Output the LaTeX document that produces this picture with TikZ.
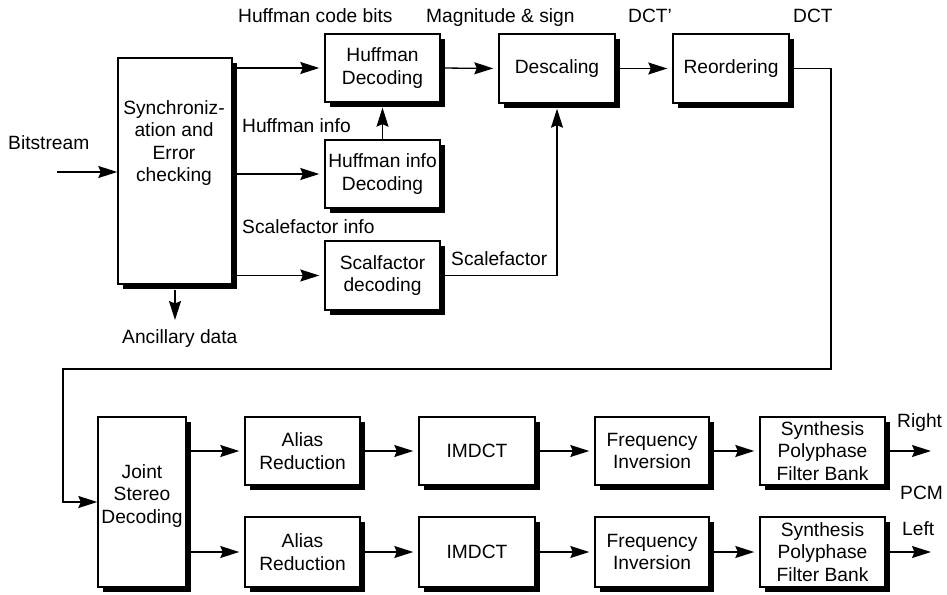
\documentclass[tikz,border=0pt]{standalone}
\usepackage{fontspec}
\setmainfont{Liberation Sans}
\usetikzlibrary{arrows.meta,shadows,calc}

\begin{document}
\begin{tikzpicture}[x=1pt,y=-1pt,
  txt/.style={font=\fontsize{19.2}{22.5}\selectfont},
  blk/.style={txt, draw, line width=1.4pt, fill=white, inner sep=0pt, align=center,
    general shadow={fill=black, shadow xshift=5pt, shadow yshift=-5pt}},
  lbl/.style={txt, inner sep=0pt, anchor=base west},
  arr/.style={line width=1.3pt, -{Stealth[length=19pt,width=12pt,inset=2.5pt]}},
  gap/.style={shorten >=5pt}]
\useasboundingbox (0,0) rectangle (947,594);

% upper chain
\node[blk, minimum width=114pt, minimum height=226pt] (sync) at (175,171) {};
\node[txt, align=center, inner sep=0pt] (synctext) at (174,143) {Synchroniz-\\ation and\\Error\\checking};
\node[blk, minimum width=115pt, minimum height=68pt] (hd) at (382.5,68) {Huffman\\Decoding};
\node[blk, minimum width=115pt, minimum height=68pt] (hid) at (382.5,174) {Huffman info\\Decoding};
\node[blk, minimum width=115pt, minimum height=69pt] (sfd) at (382.5,275.5) {Scalfactor\\decoding};
\node[blk, minimum width=116pt, minimum height=69pt] (desc) at (557,68.5) {Descaling};
\node[blk, minimum width=116pt, minimum height=69pt] (reord) at (731,68.5) {Reordering};

% lower chains
\node[blk, minimum width=88pt, minimum height=170pt] (joint) at (142,502) {};
\node[txt, align=center, inner sep=0pt] (jointtext) at (142,496) {Joint\\Stereo\\Decoding};
\node[blk, minimum width=115pt, minimum height=68pt] (ar1) at (302.5,451) {Alias\\Reduction};
\node[blk, minimum width=115pt, minimum height=70pt] (ar2) at (302.5,552) {Alias\\Reduction};
\node[blk, minimum width=116pt, minimum height=68pt] (im1) at (477,451) {IMDCT};
\node[blk, minimum width=116pt, minimum height=70pt] (im2) at (477,552) {IMDCT};
\node[blk, minimum width=114pt, minimum height=68pt] (fi1) at (652,451) {Frequency\\Inversion};
\node[blk, minimum width=114pt, minimum height=70pt] (fi2) at (652,552) {Frequency\\Inversion};
\node[blk, minimum width=125pt, minimum height=68pt] (sy1) at (822.5,451) {Synthesis\\Polyphase\\Filter Bank};
\node[blk, minimum width=125pt, minimum height=70pt] (sy2) at (822.5,552) {Synthesis\\Polyphase\\Filter Bank};

% free ends
\coordinate (bs) at (57,172);
\coordinate (anc) at (175,320);
\coordinate (r1) at (831,369);
\coordinate (r2) at (63,369);
\coordinate (outR) at (931,451);
\coordinate (outL) at (931,552);

% connectors
\draw[arr] (bs) -- (bs -| sync.west);
\draw[arr] ([yshift=-5pt]sync.south) -- (anc);
\draw[arr,gap] (sync.east |- hd.west) -- (hd.west);
\draw[arr,gap] (sync.east |- hid.west) -- (hid.west);
\draw[arr,gap] (sync.east |- sfd.west) -- (sfd.west);
\draw[arr] (hid.north) -- ([yshift=-5pt]hd.south);
\draw[arr,gap] (hd.east) -- (desc.west);
\draw[arr,gap] (desc.east) -- (reord.west);
\draw[arr] (sfd.east) -| ([yshift=-5pt]desc.south);
\draw[arr] (reord.east) -| (r1) -- (r2) |- (joint.west);
\draw[arr,gap] (joint.east |- ar1.west) -- (ar1.west);
\draw[arr,gap] (joint.east |- ar2.west) -- (ar2.west);
\draw[arr,gap] (ar1.east) -- (im1.west);
\draw[arr,gap] (ar2.east) -- (im2.west);
\draw[arr,gap] (im1.east) -- (fi1.west);
\draw[arr,gap] (im2.east) -- (fi2.west);
\draw[arr,gap] (fi1.east) -- (sy1.west);
\draw[arr,gap] (fi2.east) -- (sy2.west);
\draw[arr] (sy1.east) -- (outR);
\draw[arr] (sy2.east) -- (outL);

% signal labels
\node[lbl] (l1) at (238,23) {Huffman code bits};
\node[lbl] (l2) at (426,23) {Magnitude \& sign};
\node[lbl] (l3) at (628,23) {DCT'};
\node[lbl] (l4) at (793,23) {DCT};
\node[lbl] (l5) at (242,132) {Huffman info};
\node[lbl] (l6) at (242,233) {Scalefactor info};
\node[lbl] (l7) at (451,265) {Scalefactor};
\node[lbl] (l8) at (8,149) {Bitstream};
\node[lbl] (l9) at (122,343) {Ancillary data};
\node[lbl] (l10) at (897,427) {Right};
\node[lbl] (l11) at (900,499) {PCM};
\node[lbl] (l12) at (902,535) {Left};
\end{tikzpicture}
\end{document}
